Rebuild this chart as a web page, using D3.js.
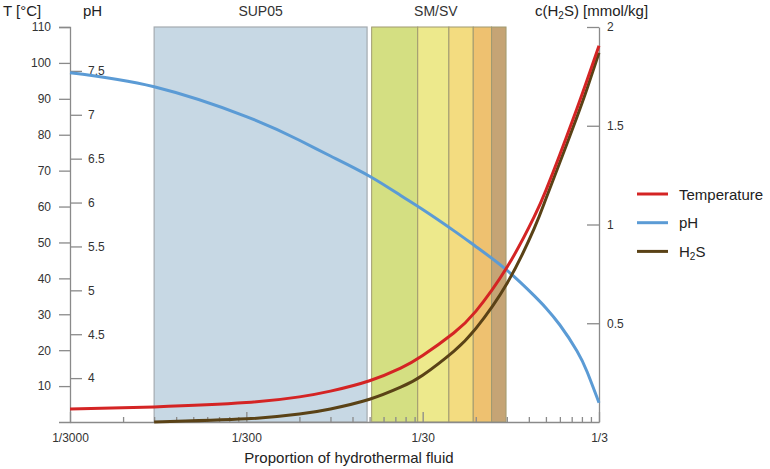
<!DOCTYPE html>
<html>
<head>
<meta charset="utf-8">
<script src="https://cdn.jsdelivr.net/npm/d3@7"></script>
<style>
  body { margin: 0; background: #fff; }
  svg { font-family: "Liberation Sans", Arial, sans-serif; }
  .axis path, .axis line { stroke: #8a8a8a; stroke-width: 1.3; }
  .axis text { fill: #333; font-size: 12px; }
</style>
</head>
<body>
<svg id="chart" width="770" height="469"></svg>
<script>
// proportion of hydrothermal fluid (x) and the three series
const proportion = [1/3000, 1/1000, 1/300, 1/150, 1/100, 1/60, 1/40, 1/30, 1/20, 1/15, 1/10, 1/7, 1/6, 1/5, 1/4, 1/3.5, 1/3];
const temperature = [3.6, 4.2, 5.4, 7.0, 8.6, 11.5, 15.0, 18.5, 24.8, 30.8, 43.0, 57.1, 64.5, 74.5, 87.3, 95.3, 104.8];
const phValues = [7.48, 7.32, 6.98, 6.71, 6.53, 6.30, 6.08, 5.92, 5.68, 5.50, 5.23, 4.94, 4.80, 4.605, 4.31, 4.07, 3.72];
const h2s = [null, 0, 0.016, 0.040, 0.066, 0.115, 0.176, 0.237, 0.358, 0.473, 0.70, 0.979, 1.13, 1.315, 1.545, 1.69, 1.87];

// shaded zones: [from, to] as proportions
const sup05Band = [1/1000, 1/62];
const smBands = [[1/58.4, 1/32], [1/32, 1/21.3], [1/21.3, 1/15.5], [1/15.5, 1/12.2], [1/12.2, 1/10.1]];
const smColors = ["#d4df82", "#ede98c", "#f3dc80", "#eec170", "#c5a475"];

const xTicks = [1/3000, 1/300, 1/30, 1/3];
const xTickLabels = ["1/3000", "1/300", "1/30", "1/3"];
const tTicks = [10, 20, 30, 40, 50, 60, 70, 80, 90, 100, 110];
const phTicks = [4, 4.5, 5, 5.5, 6, 6.5, 7, 7.5];
const h2sTicks = [0.5, 1, 1.5, 2];

const COLORS = { temp: "#d42424", ph: "#5b9bd5", h2s: "#5a4216" };

const plot = { left: 70, right: 599, top: 27, bottom: 422 };
const svg = d3.select("#chart");

const x = d3.scaleLog().domain([1/3000, 1/3]).range([plot.left, plot.right]);
const yT = d3.scaleLinear().domain([0, 110]).range([plot.bottom, plot.top]);
const yPH = d3.scaleLinear().domain([3.5, 8]).range([plot.bottom, plot.top]);
const yH = d3.scaleLinear().domain([0, 2]).range([plot.bottom, plot.top]);

// bands
svg.append("rect")
    .attr("x", x(sup05Band[0]))
    .attr("y", plot.top)
    .attr("width", x(sup05Band[1]) - x(sup05Band[0]))
    .attr("height", plot.bottom - plot.top)
    .attr("fill", "#c7d8e4")
    .attr("stroke", "#a4abb0")
    .attr("stroke-width", 1.2);

svg.selectAll(".smband")
    .data(smBands)
    .join("rect")
    .attr("class", "smband")
    .attr("x", d => x(d[0]))
    .attr("y", plot.top)
    .attr("width", d => x(d[1]) - x(d[0]))
    .attr("height", plot.bottom - plot.top)
    .attr("fill", (_d, i) => smColors[i])
    .attr("stroke", "#a09a70")
    .attr("stroke-width", 1);

// band titles
svg.append("text")
    .attr("x", (x(sup05Band[0]) + x(sup05Band[1])) / 2)
    .attr("y", 16)
    .attr("text-anchor", "middle")
    .style("font-size", "14px").style("fill", "#333")
    .text("SUP05");
svg.append("text")
    .attr("x", (x(smBands[0][0]) + x(smBands[smBands.length - 1][1])) / 2 - 3)
    .attr("y", 16)
    .attr("text-anchor", "middle")
    .style("font-size", "14px").style("fill", "#333")
    .text("SM/SV");

// x axis: major labelled ticks + minor log ticks
const minorTicks = [];
for (let d = 1/3000; d < 1/3; d *= 10) {
    for (let k = 2; k <= 9; k++) minorTicks.push(d * k);
}
svg.append("g").attr("class", "axis")
    .attr("transform", `translate(0,${plot.bottom})`)
    .call(d3.axisBottom(x).tickValues(minorTicks).tickSize(-5).tickFormat(""))
    .select(".domain").remove();
svg.append("g").attr("class", "axis")
    .attr("transform", `translate(0,${plot.bottom})`)
    .call(d3.axisBottom(x).tickValues(xTicks).tickSizeInner(-10).tickSizeOuter(0).tickPadding(11)
        .tickFormat((_d, i) => xTickLabels[i]));

// left T axis
svg.append("g").attr("class", "axis")
    .attr("transform", `translate(${plot.left},0)`)
    .call(d3.axisLeft(yT).tickValues(tTicks).tickSize(11).tickPadding(8));
// pH axis (ticks to the right of same line)
svg.append("g").attr("class", "axis")
    .attr("transform", `translate(${plot.left},0)`)
    .call(d3.axisRight(yPH).tickValues(phTicks).tickSize(12).tickPadding(6).tickFormat(d3.format("")))
    .select(".domain").remove();
// right H2S axis
svg.append("g").attr("class", "axis")
    .attr("transform", `translate(${plot.right},0)`)
    .call(d3.axisRight(yH).tickValues(h2sTicks).tickSizeInner(-12).tickSizeOuter(0).tickPadding(8).tickFormat(d3.format("")));

// curves
const pts = vals => proportion.map((p, i) => [p, vals[i]]).filter(d => d[1] !== null);
const line = yScale => d3.line()
    .x(d => x(d[0]))
    .y(d => yScale(d[1]))
    .curve(d3.curveNatural);

svg.append("path").datum(pts(phValues))
    .attr("d", line(yPH)).attr("fill", "none")
    .attr("stroke", COLORS.ph).attr("stroke-width", 3);
svg.append("path").datum(pts(h2s))
    .attr("d", line(yH)).attr("fill", "none")
    .attr("stroke", COLORS.h2s).attr("stroke-width", 3);
svg.append("path").datum(pts(temperature))
    .attr("d", line(yT)).attr("fill", "none")
    .attr("stroke", COLORS.temp).attr("stroke-width", 3);

// axis titles
const title = (tx, ty, anchor) => svg.append("text")
    .attr("x", tx).attr("y", ty).attr("text-anchor", anchor)
    .style("font-size", "15px").style("fill", "#222");
title(3, 16, "start").text("T [°C]");
title(83, 16, "start").text("pH");
const cTitle = title(535, 16, "start");
cTitle.append("tspan").text("c(H");
cTitle.append("tspan").attr("dy", 3).style("font-size", "10px").text("2");
cTitle.append("tspan").attr("dy", -3).text("S) [mmol/kg]");
title(349, 463, "middle").text("Proportion of hydrothermal fluid");

// legend
const legendItems = [
    { label: "Temperature", color: COLORS.temp },
    { label: "pH", color: COLORS.ph },
    { label: "H2S", color: COLORS.h2s }
];
const lg = svg.selectAll(".legend")
    .data(legendItems)
    .join("g")
    .attr("class", "legend")
    .attr("transform", (_d, i) => `translate(637,${194 + i * 28.7})`);
lg.append("line")
    .attr("x1", 0).attr("x2", 31)
    .attr("stroke", d => d.color).attr("stroke-width", 3);
lg.each(function (d) {
    const t = d3.select(this).append("text")
        .attr("x", 42).attr("y", 5.5)
        .style("font-size", "15px").style("fill", "#222");
    if (d.label === "H2S") {
        t.append("tspan").text("H");
        t.append("tspan").attr("dy", 3).style("font-size", "10px").text("2");
        t.append("tspan").attr("dy", -3).text("S");
    } else {
        t.text(d.label);
    }
});
</script>
</body>
</html>
